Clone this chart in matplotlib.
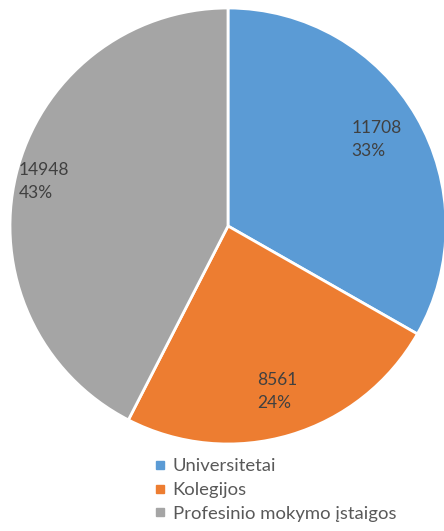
import numpy as np
import matplotlib.pyplot as plt
from matplotlib.lines import Line2D

categories = ["Universitetai", "Kolegijos", "Profesinio mokymo įstaigos"]
values = [11708, 8561, 14948]
percent_labels = ["33%", "24%", "43%"]
colors = ["#5B9BD5", "#ED7D31", "#A5A5A5"]
label_dist = [0.79, 0.79, 0.87]

plt.rcParams["font.family"] = ["Lato", "DejaVu Sans"]

fig = plt.figure(figsize=(4.44, 5.31), dpi=100)
W, H = 444, 531
cx, cy, r = 228, 226, 218
ax = fig.add_axes([(cx - r) / W, (H - cy - r) / H, 2 * r / W, 2 * r / H])

labels = [f"{v}\n{p}" for v, p in zip(values, percent_labels)]
wedges, texts = ax.pie(
    values,
    colors=colors,
    startangle=90,
    counterclock=False,
    labels=labels,
    radius=1,
    wedgeprops=dict(edgecolor="white", linewidth=2),
    textprops=dict(color="#404040", fontsize=12.5, linespacing=1.55),
)
for w, t, d in zip(wedges, texts, label_dist):
    ang = np.deg2rad((w.theta1 + w.theta2) / 2)
    t.set_position((d * np.cos(ang), d * np.sin(ang)))
    t.set_ha("center")
    t.set_va("center")
    t.set_multialignment("left")
ax.set_xlim(-1, 1)
ax.set_ylim(-1, 1)
ax.set_aspect("equal")

handles = [
    Line2D([], [], marker="s", linestyle="none", markersize=6,
           markerfacecolor=c, markeredgecolor=c)
    for c in colors
]
fig.legend(
    handles, categories,
    loc="upper left",
    bbox_to_anchor=(144 / W, 1 - 449 / H),
    frameon=False,
    fontsize=13.3,
    labelcolor="#595959",
    handlelength=0.7,
    handletextpad=0.35,
    labelspacing=0.42,
    borderpad=0,
)

fig.savefig("out.png", dpi=100)
